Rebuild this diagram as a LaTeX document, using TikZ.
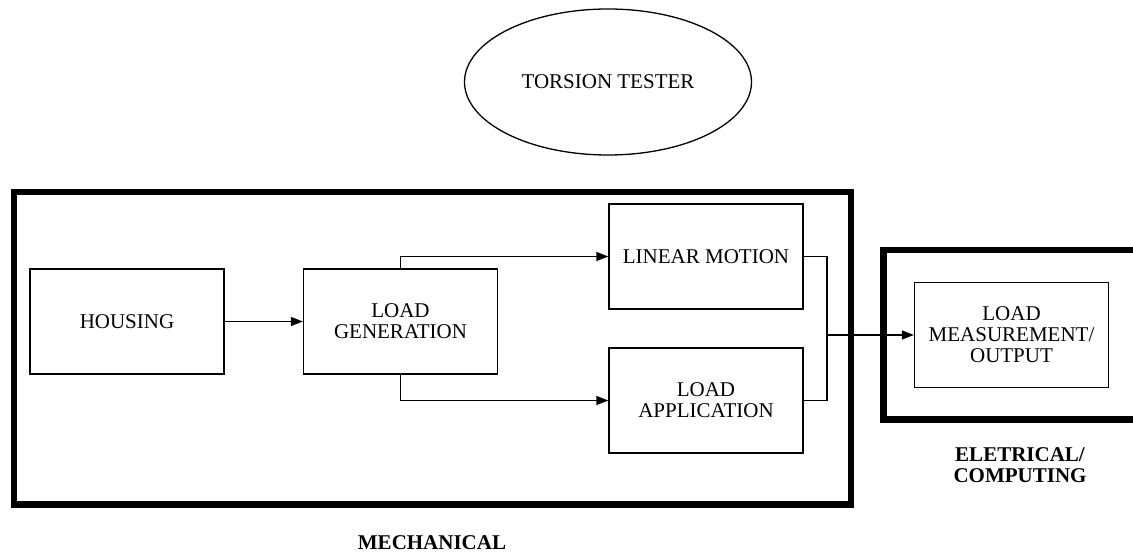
\documentclass[tikz,border=0pt]{standalone}
\usepackage{fontspec}
\setmainfont{Liberation Serif}
\usetikzlibrary{shapes.geometric,arrows.meta}
\tikzset{
  blk/.style={draw=black, line width=1.3pt, fill=white, minimum width=194pt, minimum height=105pt,
    inner sep=0pt, align=center, font=\fontsize{21}{21}\selectfont},
  thick frame/.style={draw=black, line width=6.5pt},
  conn/.style={draw=black, line width=1.4pt},
  arr/.style={conn, -{Triangle[length=12pt,width=9pt]}},
  lbl/.style={align=center, font=\fontsize{21}{21}\selectfont\bfseries, inner sep=0pt},
}
\begin{document}
\begin{tikzpicture}[x=1pt,y=-1pt]
\useasboundingbox (0,0) rectangle (1133,553);
\begin{scope}
\clip (0,0) rectangle (1133,553);
% frames
\draw[thick frame] (14,192) rectangle (851,504.5);
\draw[thick frame] (883.5,250) rectangle (1145,419.5);
% ellipse
\node[ellipse, draw=black, line width=1.3pt, minimum width=287pt, minimum height=146pt, inner sep=0pt,
  font=\fontsize{21}{21}\selectfont] (tt) at (608,82) {TORSION TESTER};
% blocks
\node[blk] (housing) at (127,321.5) {HOUSING};
\node[blk] (gen) at (400.5,321.5) {LOAD\\GENERATION};
\node[blk] (lin) at (706,256.5) {LINEAR MOTION};
\node[blk] (app) at (706,400.5) {LOAD\\APPLICATION};
\node[blk] (meas) at (1011.5,335) {LOAD\\MEASUREMENT/\\OUTPUT};
% connectors
\draw[arr] (housing.east) -- (gen.west);
\draw[arr] (gen.north) |- (lin.west);
\draw[arr] (gen.south) |- (app.west);
\coordinate (jn) at (827,335);
\draw[conn] (lin.east) -| (jn) |- (app.east);
\draw[arr] (jn) -- (meas.west);
% labels
\node[lbl] (mech) at (432,543) {MECHANICAL};
\node[lbl] (elec) at (1020,465) {ELETRICAL/\\COMPUTING};
\end{scope}
\end{tikzpicture}
\end{document}
